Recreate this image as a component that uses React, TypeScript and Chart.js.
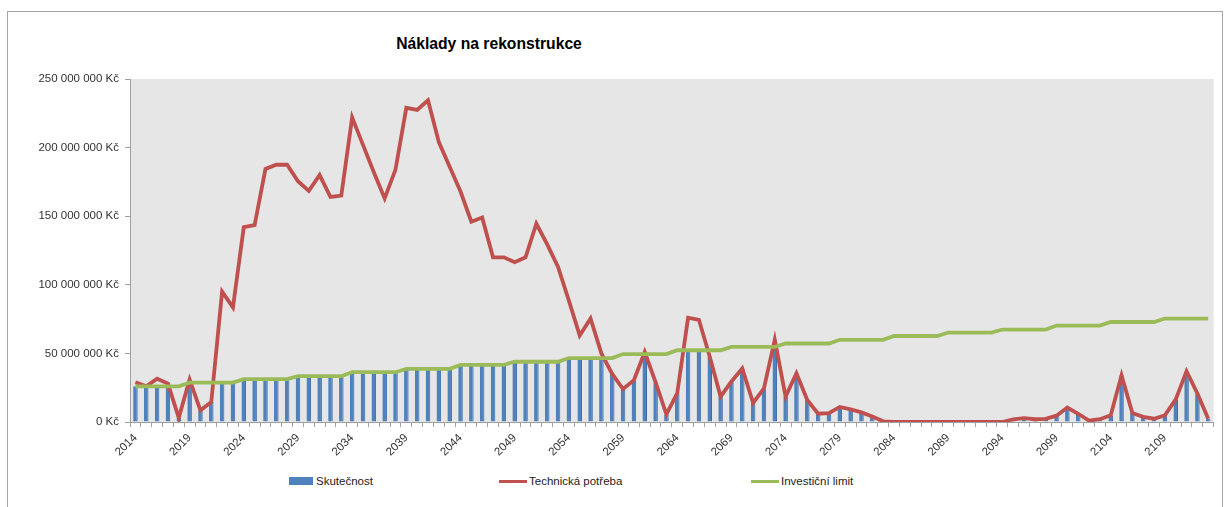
import React, { useEffect, useRef } from 'react';
import { Chart, registerables } from 'chart.js';

Chart.register(...registerables);

// ---- data (values in millions of Kč) ----
const years = [
  2014, 2015, 2016, 2017, 2018, 2019, 2020, 2021, 2022, 2023,
  2024, 2025, 2026, 2027, 2028, 2029, 2030, 2031, 2032, 2033,
  2034, 2035, 2036, 2037, 2038, 2039, 2040, 2041, 2042, 2043,
  2044, 2045, 2046, 2047, 2048, 2049, 2050, 2051, 2052, 2053,
  2054, 2055, 2056, 2057, 2058, 2059, 2060, 2061, 2062, 2063,
  2064, 2065, 2066, 2067, 2068, 2069, 2070, 2071, 2072, 2073,
  2074, 2075, 2076, 2077, 2078, 2079, 2080, 2081, 2082, 2083,
  2084, 2085, 2086, 2087, 2088, 2089, 2090, 2091, 2092, 2093,
  2094, 2095, 2096, 2097, 2098, 2099, 2100, 2101, 2102, 2103,
  2104, 2105, 2106, 2107, 2108, 2109, 2110, 2111, 2112, 2113,
];

const actualM = [
  26, 26, 26, 26, 3, 28.7, 8.5, 14.5, 28.7, 28.7,
  31.2, 31.2, 31.2, 31.2, 31.2, 33.4, 33.4, 33.4, 33.4, 33.4,
  36.3, 36.3, 36.3, 36.3, 36.3, 38.7, 38.7, 38.7, 38.7, 38.7,
  41.6, 41.6, 41.6, 41.6, 41.6, 43.9, 43.9, 43.9, 43.9, 43.9,
  46.6, 46.6, 46.6, 46.6, 35, 24, 30.5, 49.5, 29, 5.5,
  21, 52.3, 52.3, 47.5, 18.5, 29.5, 39, 14, 24.5, 54.7,
  18.5, 35.5, 16, 6, 6.5, 11, 9.2, 7, 4, 0.5,
  0, 0, 0, 0, 0, 0, 0, 0, 0, 0,
  0, 2, 2.8, 2, 2.3, 4.6, 10.5, 6, 1, 2,
  4.8, 34, 6.5, 3.8, 2.4, 4.8, 16.5, 37, 20.8, 2.3,
];

const techNeedM = [
  29, 26, 31.5, 28, 3, 31, 8.5, 14.5, 95, 83.5,
  142, 143.5, 184.5, 187.5, 187.5, 175.5, 168.5, 180, 164, 165,
  222, 202, 182, 163, 184, 229, 227.5, 234.5, 204, 186,
  168, 146, 149, 120, 120, 116.5, 120, 144.5, 129.5, 113,
  88.5, 63, 75.5, 50, 35, 24, 30.5, 51, 29, 5.5,
  21, 76, 74.5, 47.5, 18.5, 29.5, 39, 14, 24.5, 60,
  18.5, 35.5, 16, 6, 6.5, 11, 9.2, 7, 4, 0.5,
  0, 0, 0, 0, 0, 0, 0, 0, 0, 0,
  0, 2, 2.8, 2, 2.3, 4.6, 10.5, 6, 1, 2,
  4.8, 34, 6.5, 3.8, 2.4, 4.8, 16.5, 37, 20.8, 2.3,
];

const investLimitM = [
  26, 26, 26, 26, 26, 28.7, 28.7, 28.7, 28.7, 28.7,
  31.2, 31.2, 31.2, 31.2, 31.2, 33.4, 33.4, 33.4, 33.4, 33.4,
  36.3, 36.3, 36.3, 36.3, 36.3, 38.7, 38.7, 38.7, 38.7, 38.7,
  41.6, 41.6, 41.6, 41.6, 41.6, 43.9, 43.9, 43.9, 43.9, 43.9,
  46.6, 46.6, 46.6, 46.6, 46.6, 49.5, 49.5, 49.5, 49.5, 49.5,
  52.3, 52.3, 52.3, 52.3, 52.3, 54.7, 54.7, 54.7, 54.7, 54.7,
  57.2, 57.2, 57.2, 57.2, 57.2, 59.9, 59.9, 59.9, 59.9, 59.9,
  62.7, 62.7, 62.7, 62.7, 62.7, 65.2, 65.2, 65.2, 65.2, 65.2,
  67.4, 67.4, 67.4, 67.4, 67.4, 70.3, 70.3, 70.3, 70.3, 70.3,
  72.9, 72.9, 72.9, 72.9, 72.9, 75.4, 75.4, 75.4, 75.4, 75.4,
];

const seriesNames = ['Skutečnost', 'Technická potřeba', 'Investiční limit'];
const seriesColors = ['#4f81bd', '#c0504d', '#9bbb59'];
const titleText = 'Náklady na rekonstrukce';
const yMax = 250000000;
const yStep = 50000000;

const FONT = '"Liberation Sans", Arial, sans-serif';

function formatKc(v: number): string {
  return String(Math.round(v)).replace(/\B(?=(\d{3})+(?!\d))/g, ' ') + ' Kč';
}

const plotBg = {
  id: 'plotBg',
  beforeDraw(chart: any) {
    const { ctx, chartArea: a } = chart;
    ctx.save();
    ctx.fillStyle = '#e6e6e6';
    ctx.fillRect(a.left, a.top, a.right - a.left, a.bottom - a.top);
    ctx.restore();
  },
};

export default function App() {
  const ref = useRef<HTMLCanvasElement>(null);

  useEffect(() => {
    if (!ref.current) return;
    Chart.defaults.font.family = FONT;
    const toKc = (arr: number[]) => arr.map((v) => v * 1000000);
    const chart = new Chart(ref.current, {
      type: 'bar',
      data: {
        labels: years.map(String),
        datasets: [
          {
            type: 'bar',
            label: seriesNames[0],
            data: toKc(actualM),
            backgroundColor: seriesColors[0],
            borderColor: '#3c6da8',
            borderWidth: { right: 1, left: 0, top: 0, bottom: 0 } as any,
            categoryPercentage: 1,
            barPercentage: 0.42,
            order: 3,
          },
          {
            type: 'line',
            label: seriesNames[1],
            data: toKc(techNeedM),
            borderColor: seriesColors[1],
            borderWidth: 3.8,
            pointRadius: 0,
            tension: 0,
            order: 2,
          },
          {
            type: 'line',
            label: seriesNames[2],
            data: toKc(investLimitM),
            borderColor: seriesColors[2],
            borderWidth: 3.8,
            pointRadius: 0,
            tension: 0,
            order: 1,
          },
        ],
      },
      options: {
        animation: false,
        responsive: true,
        maintainAspectRatio: false,
        layout: { padding: { left: 0, right: 4, top: 67, bottom: 0 } },
        plugins: {
          legend: { display: false },
          tooltip: { enabled: false },
          title: { display: false },
        },
        scales: {
          x: {
            offset: true,
            grid: {
              offset: true,
              drawOnChartArea: false,
              drawTicks: true,
              tickLength: 5,
              color: '#a0a0a0',
            },
            border: { display: true, color: '#a0a0a0' },
            ticks: {
              autoSkip: false,
              maxRotation: 45,
              minRotation: 45,
              padding: 4,
              color: '#333',
              font: { size: 11.5, family: FONT },
              callback: (_v: any, i: number) => (i % 5 === 0 ? String(years[i]) : ''),
            },
            afterFit: (scale: any) => {
              scale.height = 50;
            },
          },
          y: {
            min: 0,
            max: yMax,
            grid: {
              drawOnChartArea: false,
              drawTicks: true,
              tickLength: 5,
              color: '#a0a0a0',
            },
            border: { display: true, color: '#a0a0a0' },
            ticks: {
              stepSize: yStep,
              padding: 6,
              color: '#333',
              font: { size: 11.5, family: FONT },
              callback: (v: any) => formatKc(Number(v)),
            },
            afterFit: (scale: any) => {
              scale.width = 122;
            },
          },
        },
      },
      plugins: [plotBg],
    });
    return () => chart.destroy();
  }, []);

  const legendX = [289, 499, 751];

  return (
    <div
      style={{
        position: 'fixed',
        left: 0,
        top: 0,
        width: 1231,
        height: 507,
        overflow: 'hidden',
        background: '#fff',
        fontFamily: FONT,
      }}
    >
      <div
        style={{
          position: 'absolute',
          left: 7,
          top: 11,
          width: 1214,
          height: 540,
          border: '1px solid #a6a6a6',
        }}
      />
      <div
        style={{
          position: 'absolute',
          left: 389,
          top: 33,
          width: 200,
          textAlign: 'center',
          fontWeight: 'bold',
          fontSize: 15.7,
          lineHeight: '22px',
          color: '#000',
          whiteSpace: 'nowrap',
        }}
      >
        {titleText}
      </div>
      <div style={{ position: 'absolute', left: 8, top: 12, width: 1214, height: 460 }}>
        <canvas ref={ref} />
      </div>
      {seriesNames.map((name, i) => (
        <React.Fragment key={name}>
          <div
            style={{
              position: 'absolute',
              left: legendX[i],
              top: i === 0 ? 477 : 479.5,
              width: i === 0 ? 24 : 28,
              height: i === 0 ? 8 : 3.5,
              background: seriesColors[i],
            }}
          />
          <div
            style={{
              position: 'absolute',
              left: legendX[i] + (i === 0 ? 27 : 30),
              top: 474,
              fontSize: 11.5,
              lineHeight: '14px',
              color: '#222',
              whiteSpace: 'nowrap',
            }}
          >
            {name}
          </div>
        </React.Fragment>
      ))}
    </div>
  );
}
